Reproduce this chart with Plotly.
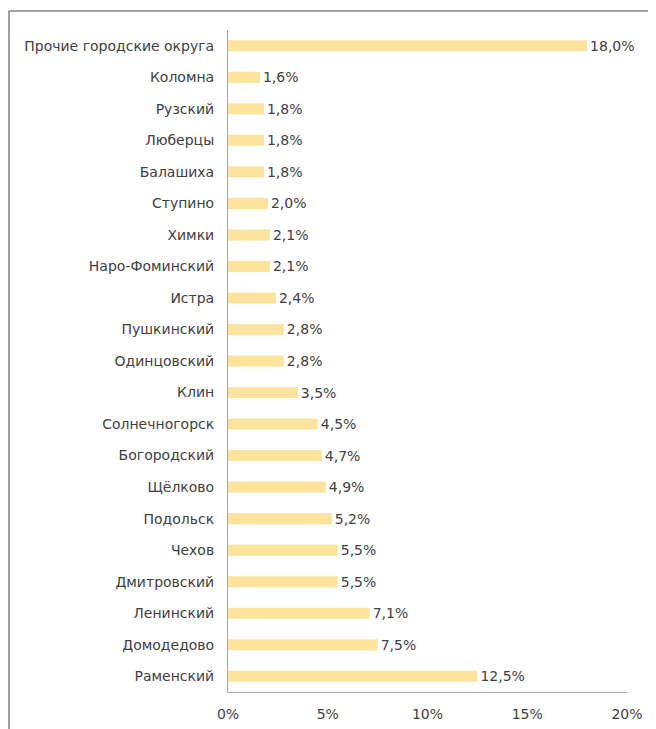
import plotly.graph_objects as go

categories = ["Раменский", "Домодедово", "Ленинский", "Дмитровский", "Чехов", "Подольск",
              "Щёлково", "Богородский", "Солнечногорск", "Клин", "Одинцовский", "Пушкинский",
              "Истра", "Наро-Фоминский", "Химки", "Ступино", "Балашиха", "Люберцы",
              "Рузский", "Коломна", "Прочие городские округа"]
values = [12.5, 7.5, 7.1, 5.5, 5.5, 5.2, 4.9, 4.7, 4.5, 3.5, 2.8, 2.8,
          2.4, 2.1, 2.1, 2.0, 1.8, 1.8, 1.8, 1.6, 18.0]
x_ticks = [0, 5, 10, 15, 20]
x_tick_labels = ["0%", "5%", "10%", "15%", "20%"]

labels = [f"{v:.1f}".replace(".", ",") + "%" for v in values]

# page has an 8px body margin; figure coordinates are offset accordingly
W, H = 656, 729
L, R, T, B = 220, 37, 22, 45
pw, ph = W - L - R, H - T - B

def px_x(p):
    return (p - L) / pw

def px_y(p):
    return (H - B - p) / ph

fig = go.Figure(go.Bar(
    y=categories, x=values, orientation="h",
    marker=dict(color="#FEE39C", line=dict(width=0)),
    width=0.35,
    text=labels, textposition="outside", cliponaxis=False,
    constraintext="none",
    textfont=dict(size=14, color="#404040"),
))

fig.update_layout(
    width=W, height=H,
    margin=dict(l=L, r=R, t=T, b=B, autoexpand=False),
    paper_bgcolor="white", plot_bgcolor="white",
    font=dict(family="DejaVu Sans", size=14, color="#404040"),
    showlegend=False,
    xaxis=dict(range=[0, 20], tickvals=x_ticks, ticktext=x_tick_labels,
               showgrid=False, zeroline=False, showline=True, linecolor="#A6A6A6",
               linewidth=1, ticks="", ticklabelstandoff=9, automargin=False,
               tickfont=dict(size=14, color="#404040")),
    yaxis=dict(showgrid=False, zeroline=False, showline=True, linecolor="#A6A6A6",
               linewidth=1, ticks="", ticklabelstandoff=10, automargin=False,
               tickfont=dict(size=14, color="#404040")),
    shapes=[
        dict(type="line", xref="paper", yref="paper",
             x0=px_x(1), x1=px_x(1), y0=px_y(3), y1=px_y(H + 5),
             line=dict(color="#808080", width=1.5)),
        dict(type="line", xref="paper", yref="paper",
             x0=px_x(1), x1=px_x(W + 5), y0=px_y(3), y1=px_y(3),
             line=dict(color="#808080", width=1.5)),
    ],
)

fig.write_html("out.html")
